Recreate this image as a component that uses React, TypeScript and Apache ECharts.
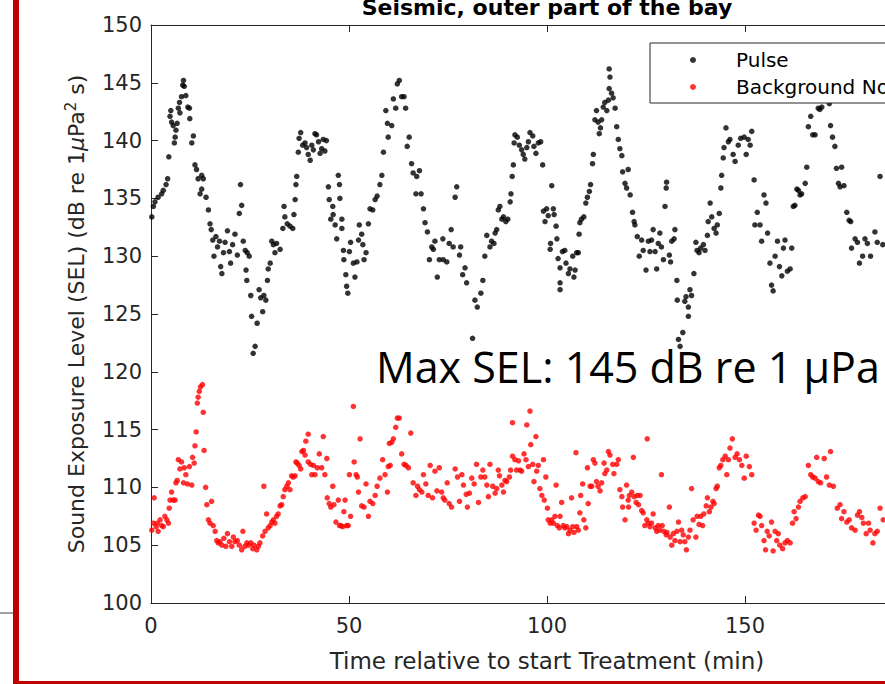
import React, { useEffect, useRef } from "react";
import * as echarts from "echarts";

const FONT = "DejaVu Sans";

const xTicks = { min: 0, max: 200, interval: 50 };
const yTicks = { min: 100, max: 150, interval: 5 };

const chartTitle = "Seismic, outer part of the bay";
const xName = "Time relative to start Treatment (min)";
const seriesNames = ["Pulse", "Background Noise"];
const annotation = "Max SEL: 145 dB re 1 µPa";

// [time (min), SEL (dB)]
const pulsePoints: number[][] = [
  [0.2,133.4],[0.6,134.3],[1.0,134.7],[1.8,135.1],[2.7,135.4],[3.1,135.7],[3.8,136.2],[4.2,136.7],[4.5,138.6],[4.8,142.1],
  [5.0,142.6],[5.2,141.6],[5.6,141.3],[5.9,139.8],[6.1,140.3],[6.3,140.9],[6.6,141.5],[6.9,142.8],[7.2,143.3],[7.3,142.4],
  [7.7,143.8],[8.0,144.8],[8.2,145.2],[8.4,144.7],[8.8,143.9],[9.3,142.9],[9.7,142.8],[9.8,141.9],[10.3,139.8],[10.7,140.4],
  [11.1,137.9],[11.5,137.5],[11.9,136.7],[12.4,135.4],[12.8,137.0],[13.2,136.7],[12.8,135.8],[13.9,135.1],[14.5,134.0],[14.9,132.8],
  [15.2,132.3],[15.6,131.4],[15.9,130.0],[16.4,131.7],[16.8,130.8],[17.3,131.3],[17.6,129.1],[17.9,128.5],[18.3,130.3],[18.7,131.2],
  [19.3,132.2],[19.8,130.4],[20.1,129.4],[20.6,131.0],[21.2,131.9],[21.8,130.1],[22.3,133.7],[22.6,136.2],[22.9,134.4],[23.3,131.3],
  [23.8,130.5],[24.3,130.3],[24.8,130.0],[24.0,128.8],[24.2,127.9],[25.2,126.6],[25.4,124.8],[25.8,121.6],[26.3,122.2],[26.8,124.2],
  [27.3,127.1],[27.7,126.4],[28.2,125.2],[28.5,126.6],[29.0,126.2],[29.4,127.9],[29.6,128.9],[30.1,129.4],[30.5,131.3],[30.9,131.0],
  [31.3,130.3],[31.7,131.1],[32.6,130.6],[33.3,132.4],[33.6,134.3],[33.8,133.4],[34.4,132.8],[35.1,132.6],[35.8,132.4],[36.1,133.6],
  [36.4,134.9],[36.6,136.2],[36.8,136.9],[37.2,139.0],[37.4,140.2],[37.8,140.7],[38.3,139.6],[38.9,139.8],[39.3,139.4],[39.7,138.8],
  [40.2,138.3],[40.6,139.6],[41.0,139.2],[41.4,140.6],[41.8,140.5],[42.3,139.9],[42.7,138.9],[43.1,139.3],[43.5,140.1],[43.9,139.1],
  [44.3,140.0],[44.8,136.0],[45.0,134.9],[45.4,133.2],[45.9,134.3],[46.0,133.6],[46.5,132.7],[46.9,131.5],[47.3,137.0],[47.6,136.2],
  [47.7,135.0],[48.2,133.2],[48.2,132.4],[48.6,130.5],[48.7,129.7],[49.2,128.4],[49.4,127.4],[49.7,126.8],[50.1,130.4],[50.4,131.2],
  [51.1,129.4],[51.5,128.2],[52.0,129.5],[52.4,131.4],[52.6,132.7],[53.2,131.9],[53.5,131.0],[53.8,129.7],[54.3,130.3],[54.9,132.8],
  [55.3,134.1],[56.0,134.0],[56.6,134.9],[57.1,135.2],[57.8,136.2],[58.3,137.0],[58.7,139.0],[59.3,142.6],[59.7,141.5],[59.9,140.3],
  [60.8,141.3],[61.2,143.6],[61.8,142.8],[62.2,144.9],[62.7,145.2],[63.3,143.8],[63.9,143.8],[64.3,142.8],[64.7,139.5],[65.2,140.3],
  [65.8,138.0],[66.2,137.2],[67.1,136.9],[67.8,137.4],[66.9,135.4],[68.2,135.4],[68.8,134.1],[69.2,132.9],[69.8,132.1],[70.3,129.7],
  [70.9,130.8],[71.3,130.6],[71.7,131.3],[72.3,128.2],[72.8,129.7],[73.7,131.5],[73.8,129.7],[74.7,129.5],[75.3,131.1],[75.8,132.3],
  [76.3,130.8],[76.8,135.1],[77.2,136.0],[77.9,130.1],[78.2,130.8],[78.7,128.4],[79.3,129.0],[79.7,127.7],[81.2,122.9],[81.8,126.2],
  [82.4,125.6],[83.3,126.8],[83.8,127.9],[84.3,130.0],[84.8,131.8],[85.6,130.8],[86.0,131.3],[86.6,131.1],[86.9,132.0],[87.3,132.3],
  [87.7,134.0],[88.1,134.3],[88.6,133.2],[89.0,133.4],[89.6,133.0],[90.1,133.2],[90.7,134.7],[90.9,135.4],[91.2,136.9],[91.5,137.9],
  [91.9,140.5],[92.5,140.3],[91.7,139.8],[93.0,139.6],[93.6,139.2],[94.0,138.8],[94.4,138.4],[94.9,139.4],[95.3,139.9],[95.7,140.7],
  [96.4,140.4],[96.7,139.5],[97.2,138.9],[97.8,139.8],[98.4,139.9],[98.9,137.9],[99.1,133.9],[99.5,133.0],[99.9,134.1],[100.3,133.5],
  [101.2,136.1],[101.6,134.1],[101.8,133.6],[102.3,132.6],[102.5,131.5],[100.9,131.1],[100.8,130.6],[102.8,129.8],[103.3,129.0],[103.3,127.7],
  [103.3,127.1],[103.9,130.4],[104.5,130.5],[104.8,129.4],[105.4,128.5],[105.8,128.9],[106.5,130.0],[106.8,128.2],[107.1,128.8],[107.5,130.3],
  [107.9,130.3],[108.1,131.9],[108.3,132.9],[108.7,133.2],[109.3,133.4],[109.8,134.6],[110.2,135.1],[110.7,135.6],[111.0,136.2],[111.5,138.0],
  [111.7,138.8],[112.1,141.8],[112.5,142.6],[112.9,141.6],[113.2,140.6],[113.5,141.1],[113.8,141.8],[114.2,142.9],[114.6,143.3],[115.1,142.6],
  [115.5,143.5],[115.7,144.5],[115.9,145.5],[115.7,146.2],[116.3,144.1],[116.7,143.7],[117.2,142.8],[117.6,141.2],[118.0,140.1],[118.4,139.3],
  [118.9,138.7],[119.1,137.3],[119.7,136.3],[120.1,135.9],[120.5,137.5],[121.0,135.3],[121.6,133.8],[122.0,133.0],[122.2,132.7],[122.8,131.7],
  [123.3,130.0],[123.9,131.4],[124.3,130.5],[125.0,128.8],[125.6,131.3],[126.0,130.4],[126.4,131.4],[126.8,132.3],[127.3,130.4],[127.7,128.9],
  [128.1,131.1],[128.5,132.0],[128.9,130.8],[129.4,129.7],[129.8,134.3],[130.1,135.9],[130.2,136.4],[130.9,130.1],[131.2,129.5],[131.5,131.3],
  [132.1,131.5],[132.3,132.3],[132.8,127.9],[132.9,126.2],[133.2,122.8],[133.6,122.2],[134.3,123.4],[134.8,126.1],[135.1,126.5],[135.7,124.8],
  [135.7,125.6],[136.1,127.1],[136.5,126.6],[137.1,128.5],[137.6,131.2],[137.9,130.5],[138.4,130.3],[138.8,130.7],[139.5,131.0],[139.9,130.5],
  [140.5,131.8],[140.7,133.0],[141.2,134.6],[141.6,133.4],[142.2,132.4],[142.7,132.0],[143.0,132.7],[143.5,133.7],[143.9,135.9],[144.1,137.0],
  [144.5,138.5],[144.7,139.4],[145.2,141.1],[145.8,139.9],[146.2,140.1],[147.0,138.8],[147.5,138.2],[148.3,139.6],[148.9,140.2],[149.8,140.3],
  [150.3,138.8],[150.8,140.1],[151.3,139.6],[151.7,140.8],[152.3,136.6],[152.5,132.7],[153.1,133.8],[153.8,132.7],[154.2,131.3],[154.8,135.3],
  [155.3,134.6],[155.7,132.0],[156.3,129.4],[156.7,127.5],[157.1,127.0],[157.6,130.0],[158.2,131.3],[158.7,129.1],[159.3,128.3],[159.7,130.7],
  [160.1,131.4],[160.7,128.7],[161.4,128.9],[161.8,130.7],[162.2,134.3],[162.6,134.4],[163.1,135.8],[163.5,135.7],[163.9,135.3],[164.3,135.4],
  [165.2,136.3],[165.6,137.7],[166.0,141.2],[166.6,142.1],[167.1,140.5],[167.7,140.5],[168.5,142.8],[168.9,142.7],[169.4,142.9],[169.9,144.2],
  [170.4,145.0],[170.8,144.4],[171.3,143.2],[171.6,141.3],[172.1,140.3],[172.7,139.5],[173.1,137.6],[174.4,137.7],[173.6,136.3],[174.0,136.0],
  [175.0,136.1],[175.7,133.8],[176.3,133.1],[176.7,133.0],[176.9,130.7],[177.8,131.5],[178.4,131.2],[178.9,129.4],[179.7,130.0],[180.3,131.5],
  [180.9,131.1],[181.7,130.0],[182.8,132.1],[183.4,131.2],[184.1,136.9],[184.8,131.0]
];

const noisePoints: number[][] = [
  [0.8,109.1],[0.2,106.3],[0.6,106.9],[1.3,106.6],[1.6,106.9],[1.8,106.2],[2.3,107.2],[2.7,106.7],[3.1,106.6],[3.5,107.5],
  [4.0,107.2],[4.4,106.9],[4.6,108.2],[4.8,108.9],[5.2,109.6],[5.6,108.9],[6.1,108.9],[6.3,110.4],[6.6,110.6],[6.9,112.4],
  [7.3,111.6],[7.7,112.2],[8.2,110.4],[8.4,111.7],[8.8,111.1],[9.2,110.3],[9.7,111.8],[10.3,110.2],[10.5,112.6],[10.9,112.1],
  [11.1,113.6],[11.4,114.8],[11.7,117.3],[11.9,117.8],[12.2,118.3],[12.5,118.7],[13.0,118.9],[13.2,116.5],[13.4,113.2],[13.8,110.0],
  [14.1,108.5],[14.5,107.2],[14.9,106.9],[15.3,108.8],[15.7,106.7],[16.2,106.2],[16.6,105.4],[17.0,105.2],[17.4,105.3],[17.9,105.0],
  [18.4,105.6],[18.9,104.9],[19.3,106.0],[19.8,105.3],[20.4,104.9],[20.8,105.7],[21.2,105.3],[21.8,105.4],[22.3,105.0],[22.9,104.6],
  [23.2,106.2],[23.7,104.9],[24.2,105.2],[24.6,105.0],[25.2,105.2],[25.7,104.7],[26.0,105.0],[26.7,104.6],[27.1,104.9],[27.5,105.2],
  [28.2,105.8],[28.5,110.1],[28.8,106.2],[29.2,107.7],[29.6,106.5],[30.1,106.7],[30.5,107.0],[30.9,107.2],[31.3,106.9],[31.7,107.5],
  [32.1,107.7],[32.6,108.4],[33.0,108.5],[33.4,109.2],[33.8,109.8],[34.3,110.1],[34.7,110.4],[35.1,109.8],[35.5,111.0],[35.9,110.9],
  [36.4,111.0],[36.6,112.2],[36.9,112.1],[37.4,111.9],[37.8,111.6],[38.1,113.1],[38.5,113.2],[38.9,112.8],[39.1,114.0],[39.7,114.6],
  [39.7,112.2],[40.3,112.0],[40.6,111.1],[41.0,111.9],[41.4,111.1],[42.0,111.7],[42.5,112.9],[43.1,111.7],[43.5,114.4],[43.9,111.1],
  [44.4,112.5],[44.5,109.1],[45.0,108.6],[45.4,108.3],[45.9,110.1],[46.2,108.5],[46.7,107.0],[47.3,108.9],[47.6,106.7],[48.0,106.7],
  [48.4,106.6],[48.7,107.9],[49.0,108.9],[49.4,106.7],[49.8,106.7],[50.4,107.5],[50.1,111.1],[51.1,117.0],[51.3,112.2],[51.8,111.1],
  [52.1,110.9],[52.4,109.6],[52.8,114.2],[53.2,108.4],[53.8,108.3],[54.3,110.3],[54.9,107.5],[55.3,108.8],[56.0,108.6],[56.6,109.3],
  [57.1,110.1],[57.8,110.8],[58.5,112.4],[59.1,111.1],[59.7,109.6],[59.9,111.8],[60.2,113.8],
  [60.4,111.9],[60.8,113.9],[61.2,114.2],[61.8,115.2],[62.2,116.0],[62.7,116.0],[63.3,112.9],[63.9,112.0],[64.4,111.9],[65.0,111.7],
  [65.6,114.7],[66.2,110.4],[66.9,109.3],[67.3,110.1],[67.8,109.8],[68.4,109.6],[68.8,111.1],[69.4,110.3],[70.0,109.3],[70.5,111.9],
  [71.1,109.1],[71.7,111.4],[72.2,109.7],[72.8,111.7],[73.4,109.6],[73.8,109.1],[74.2,108.9],[74.8,110.4],[75.3,108.6],[75.9,108.3],
  [76.8,111.6],[77.4,110.9],[77.9,108.8],[78.5,111.1],[78.9,110.2],[79.6,109.4],[79.9,108.3],[80.4,109.5],[81.0,110.8],[81.6,110.3],
  [82.2,112.0],[82.7,108.7],[83.3,110.9],[83.8,111.5],[84.3,110.9],[84.8,110.2],[85.2,109.2],[85.6,112.0],[86.3,110.1],[86.9,109.5],
  [87.3,109.9],[87.7,111.5],[88.0,111.0],[88.6,110.2],[89.0,109.6],[89.4,110.6],[89.8,110.5],[90.5,110.9],[90.8,111.5],[91.3,115.6],
  [91.3,112.7],[91.9,112.4],[92.3,111.5],[92.8,112.3],[93.2,111.5],[93.6,111.4],[94.2,112.9],[94.7,112.4],[94.9,115.4],[95.3,111.8],
  [95.7,116.6],[95.9,113.7],[96.4,112.0],[96.7,110.5],[97.2,114.4],[97.4,111.4],[97.8,111.9],[98.2,109.9],[98.7,109.3],[99.1,112.4],
  [99.3,108.9],[99.7,110.9],[100.1,108.2],[100.3,107.2],[100.8,106.9],[101.2,107.2],[101.6,106.9],[102.0,107.5],[102.3,110.2],[102.6,106.7],
  [103.1,106.5],[103.3,107.5],[103.7,108.7],[104.1,106.7],[104.5,106.5],[105.0,106.6],[105.4,106.0],[105.8,106.3],[106.2,109.1],[106.5,106.6],
  [106.8,106.1],[107.3,113.0],[107.5,106.6],[107.9,106.3],[108.3,107.8],[108.5,109.3],[109.0,110.3],[109.3,107.2],[109.8,106.5],[110.2,111.7],
  [110.4,108.6],[110.9,110.1],[111.3,110.1],[111.7,112.4],[112.1,112.1],[112.5,110.5],[112.9,110.1],[113.4,109.7],[113.8,110.4],[114.4,112.1],
  [114.6,111.2],[115.1,111.5],[115.5,113.1],[115.9,112.8],[116.6,112.0],[116.9,111.2],[117.6,112.0],[118.0,112.4],[118.4,109.8],[118.9,109.2],
  [119.1,108.3],[119.7,107.2],[120.1,110.2],[120.5,108.9],
  [120.6,108.3],[120.8,109.3],[121.4,109.6],[121.8,112.6],[122.0,109.2],[122.5,108.7],[122.8,109.3],[123.1,108.5],[123.5,109.3],[123.9,108.0],
  [124.3,107.8],[124.7,106.7],[125.2,107.2],[125.3,114.2],[125.6,106.9],[126.0,106.6],[126.4,106.9],[126.8,107.7],[127.3,106.5],[127.7,106.2],
  [128.1,106.7],[128.5,106.3],[128.9,111.1],[129.1,106.7],[129.5,106.2],[130.1,105.9],[130.3,106.1],[130.9,108.3],[131.1,105.7],[131.5,105.0],
  [131.9,106.0],[132.3,105.4],[132.8,106.2],[133.2,107.0],[133.6,105.3],[134.0,106.3],[134.4,105.9],[134.8,105.3],[135.2,104.6],[135.7,105.7],
  [136.1,106.3],[136.5,109.9],[136.9,107.2],[137.6,105.7],[137.9,107.5],[138.4,106.8],[138.8,107.5],[139.3,106.7],[139.6,107.7],[140.2,108.4],
  [140.5,109.1],[141.0,107.9],[141.4,108.3],[141.9,108.8],[142.2,108.6],[142.7,109.9],[143.0,110.1],[143.5,111.7],[143.9,111.9],[144.4,112.4],
  [145.0,112.7],[145.4,111.1],[145.8,112.4],[146.2,113.4],[146.8,114.2],[147.5,112.6],[148.0,112.9],[148.6,112.4],[149.2,111.9],[149.8,110.8],
  [150.3,112.7],[151.1,111.8],[151.7,111.1],[152.3,106.9],[152.8,106.3],[153.4,107.6],[153.8,107.5],[154.2,106.7],[154.8,105.4],[155.2,104.6],
  [155.6,106.2],[156.1,105.8],[156.7,107.0],[157.1,104.5],[157.6,106.2],[158.0,105.4],[158.4,106.0],[158.8,105.0],[159.5,104.7],[160.1,105.2],
  [160.7,105.4],[161.4,105.2],[162.0,106.9],[162.4,107.9],[162.9,107.3],[163.5,108.3],[163.9,108.8],[164.6,109.1],[165.2,109.2],[166.0,111.9],
  [166.6,111.1],[167.1,110.9],[167.7,110.8],[168.1,112.6],[168.5,110.5],[169.1,110.4],[170.0,112.5],[170.6,110.9],[171.3,110.2],[171.6,113.1],
  [172.3,110.1],[173.3,108.2],[174.0,108.5],[174.4,107.3],[175.0,107.9],[175.7,107.0],[176.3,107.2],[176.9,106.5],[177.8,106.3],[178.4,107.6],
  [178.9,107.9],[179.5,107.4],[179.9,106.9],[180.6,106.0],[181.2,106.9],[181.6,106.3],[182.3,105.2],[182.8,106.0],[183.4,106.2],[184.1,108.2],
  [184.9,107.2]
];

const AXIS = "#262626";

export default function App() {
  const ref = useRef<HTMLDivElement>(null);
  useEffect(() => {
    if (!ref.current) return;
    const chart = echarts.init(ref.current, undefined, { renderer: "svg" });
    const axisCommon = {
      axisLine: { show: true, onZero: false, lineStyle: { color: AXIS, width: 1 } },
      axisTick: { show: true, inside: true, length: 7, lineStyle: { color: AXIS, width: 1 } },
      splitLine: { show: false },
    };
    chart.setOption({
      animation: false,
      backgroundColor: "#ffffff",
      title: {
        text: chartTitle,
        left: 547,
        top: -4,
        padding: 0,
        textAlign: "center",
        textStyle: { fontFamily: FONT, fontSize: 22, fontWeight: "bold", color: "#000" },
      },
      legend: {
        data: seriesNames,
        orient: "vertical",
        left: 650,
        top: 43,
        icon: "circle",
        itemWidth: 6,
        itemHeight: 6,
        itemGap: 7,
        padding: [7, 120, 6, 40],
        borderColor: AXIS,
        borderWidth: 1,
        backgroundColor: "#ffffff",
        borderRadius: 0,
        textStyle: { fontFamily: FONT, fontSize: 20, lineHeight: 20, color: "#000", padding: [0, 0, 0, 35] },
      },
      grid: { left: 151, top: 25, width: 792, height: 578, containLabel: false, outerBoundsMode: "none" },
      xAxis: [
        {
          type: "value",
          position: "bottom",
          ...xTicks,
          ...axisCommon,
          axisLabel: { fontFamily: FONT, fontSize: 21, color: AXIS, margin: 12, showMaxLabel: false },
          name: xName,
          nameLocation: "middle",
          nameGap: 46,
          nameTextStyle: { fontFamily: FONT, fontSize: 23, color: AXIS },
        },
        {
          type: "value",
          position: "top",
          ...xTicks,
          ...axisCommon,
          axisLabel: { show: false },
        },
      ],
      yAxis: {
        type: "value",
        ...yTicks,
        ...axisCommon,
        axisLabel: { fontFamily: FONT, fontSize: 21, color: AXIS, margin: 9 },
        name: "Sound Exposure Level (SEL) (dB re 1{mu|μ}Pa{sup|2} s)",
        nameLocation: "middle",
        nameGap: 62,
        nameTextStyle: {
          fontFamily: FONT,
          fontSize: 22,
          color: AXIS,
          lineHeight: 26,
          rich: {
            mu: { fontFamily: FONT, fontSize: 22, fontStyle: "italic", color: AXIS, lineHeight: 26 },
            sup: { fontFamily: FONT, fontSize: 15, color: AXIS, verticalAlign: "top", lineHeight: 16 },
          },
        },
      },
      series: [
        {
          name: seriesNames[0],
          type: "scatter",
          xAxisIndex: 0,
          data: pulsePoints,
          symbol: "circle",
          symbolSize: 5.5,
          itemStyle: { color: "#000000" },
        },
        {
          name: seriesNames[1],
          type: "scatter",
          xAxisIndex: 0,
          data: noisePoints,
          symbol: "circle",
          symbolSize: 5.5,
          itemStyle: { color: "#ff0000" },
        },
      ],
      graphic: [
        { type: "rect", left: 13, top: 0, shape: { width: 6, height: 684 }, style: { fill: "#c00000" }, z: 10 },
        { type: "rect", left: 13, top: 681, shape: { width: 872, height: 3 }, style: { fill: "#c00000" }, z: 10 },
        { type: "line", shape: { x1: 0, y1: 613, x2: 13, y2: 613 }, style: { stroke: "#808080", lineWidth: 1.5 }, z: 10 },
        {
          type: "text",
          x: 376,
          y: 366,
          z: 20,
          style: {
            text: annotation,
            fontFamily: "Open Sans",
            fontSize: 43,
            fill: "#000",
            textAlign: "left",
            textVerticalAlign: "middle",
          },
        },
      ],
    });
    return () => chart.dispose();
  }, []);
  return (
    <div
      ref={ref}
      style={{ position: "fixed", left: 0, top: 0, width: 885, height: 684, background: "#fff" }}
    />
  );
}
